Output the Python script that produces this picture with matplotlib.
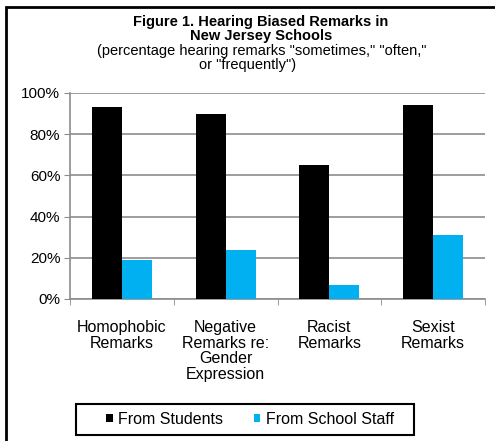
import numpy as np
import matplotlib.pyplot as plt
from matplotlib.patches import Rectangle

categories = ["Homophobic\nRemarks", "Negative\nRemarks re:\nGender\nExpression",
              "Racist\nRemarks", "Sexist\nRemarks"]
from_students = [93, 90, 65, 94]
from_staff = [19, 24, 7, 31]
series_names = ["From Students", "From School Staff"]
yticks = [0, 20, 40, 60, 80, 100]
title_lines = ["Figure 1. Hearing Biased Remarks in", "New Jersey Schools"]
subtitle_lines = ["(percentage hearing remarks \"sometimes,\" \"often,\"", "or \"frequently\")"]

plt.rcParams['font.family'] = ['Liberation Sans', 'DejaVu Sans']

fig = plt.figure(figsize=(4.95, 4.41), dpi=100)
ax = fig.add_axes([70 / 495, 1 - 299 / 441, 415 / 495, 206 / 441])

x = np.arange(len(categories))
w = 0.29
ax.bar(x - w / 2, from_students, w, color="black", label=series_names[0], zorder=3)
ax.bar(x + w / 2, from_staff, w, color="#00b0f0", label=series_names[1], zorder=3)

ax.set_xlim(-0.5, len(categories) - 0.5)
ax.set_ylim(0, 100)
ax.set_yticks(yticks)
ax.set_yticklabels([f"{v}%" for v in yticks], fontsize=11)
ax.yaxis.grid(True, color="#8c8c8c", linewidth=1.2, zorder=0)
ax.tick_params(axis="y", length=4, color="#8c8c8c", pad=3)

ax.set_xticks(x)
ax.set_xticklabels(categories, fontsize=11.5, linespacing=1.06)
ax.set_xticks(np.arange(len(categories) + 1) - 0.5, minor=True)
ax.tick_params(axis="x", which="major", length=0, pad=15)
ax.tick_params(axis="x", which="minor", length=4, color="#8c8c8c")

for s in ["top", "right"]:
    ax.spines[s].set_visible(False)
for s in ["left", "bottom"]:
    ax.spines[s].set_color("#8c8c8c")
    ax.spines[s].set_linewidth(1.2)

# title lines placed by baseline
for line, base in zip(title_lines, [26, 40]):
    fig.text(261 / 495, 1 - base / 441, line, ha="center", va="baseline",
             fontsize=10.5, fontweight="bold")
for line, base, cx in zip(subtitle_lines, [55, 69], [262, 248]):
    fig.text(cx / 495, 1 - base / 441, line, ha="center", va="baseline", fontsize=10.5)

# legend without frame, box drawn separately
leg = fig.legend(loc="center", bbox_to_anchor=(250 / 495, 1 - 419.5 / 441), ncol=2,
                 fontsize=11.5, frameon=False, handlelength=0.42, handleheight=0.42,
                 handletextpad=0.35, columnspacing=1.9, borderpad=0, borderaxespad=0)
fig.patches.append(Rectangle((76 / 495, 1 - 435 / 441), 338 / 495, 31 / 441,
                             transform=fig.transFigure, fill=False, edgecolor="black",
                             linewidth=1.5))

fig.patches.append(Rectangle((6 / 495, -0.1), 1.2, 1 - 7 / 441 + 0.1, transform=fig.transFigure,
                             fill=False, edgecolor="black", linewidth=2))

fig.savefig("out.png", dpi=100)
